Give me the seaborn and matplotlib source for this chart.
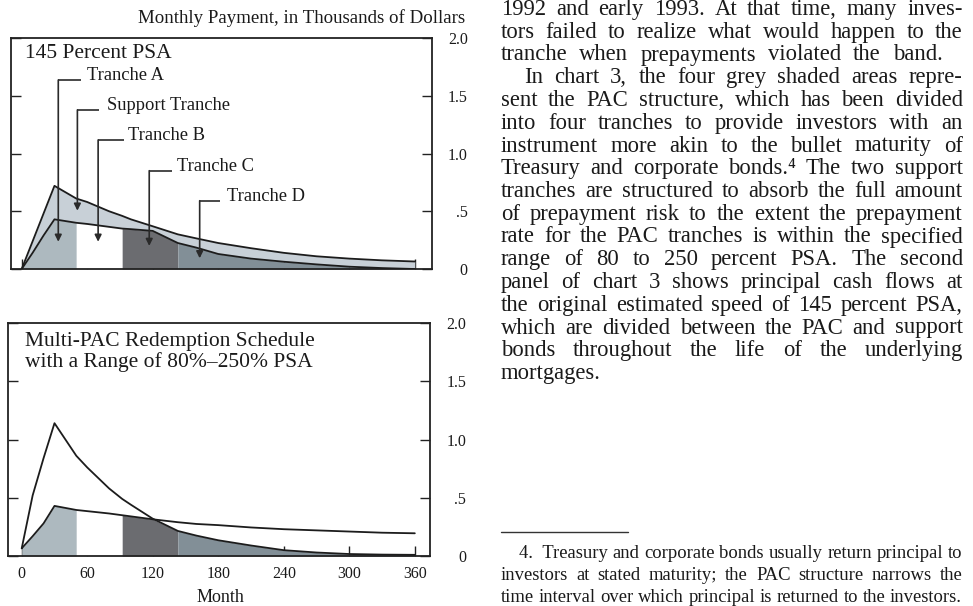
import numpy as np
import pandas as pd
import matplotlib
matplotlib.use("Agg")
import matplotlib.pyplot as plt
from matplotlib.transforms import IdentityTransform
import seaborn as sns

# ---------------- data ----------------
months = [0, 10, 20, 30, 50, 60, 80, 92, 100, 120, 143, 160, 180, 210, 240, 270, 300, 330, 360]
total_145 = [0, 0.24, 0.48, 0.72, 0.61, 0.58, 0.50, 0.46, 0.43, 0.37, 0.30, 0.265, 0.225, 0.18, 0.14, 0.11, 0.09, 0.075, 0.065]
pac_145 = [0, 0.14, 0.29, 0.43, 0.40, 0.39, 0.365, 0.35, 0.345, 0.33, 0.225, 0.185, 0.13, 0.09, 0.063, 0.04, 0.02, 0.008, 0.0]
psa_80 = [0.066, 0.17, 0.28, 0.43, 0.395, 0.385, 0.365, 0.35, 0.34, 0.315, 0.29, 0.275, 0.265, 0.245, 0.23, 0.22, 0.21, 0.20, 0.195]
psa_250 = [0.066, 0.52, 0.84, 1.14, 0.86, 0.76, 0.58, 0.49, 0.44, 0.32, 0.215, 0.175, 0.135, 0.09, 0.05, 0.03, 0.017, 0.012, 0.01]

tranche_names = ["Tranche A", "Tranche B", "Tranche C", "Tranche D"]
tranche_bounds = [0, 50, 92, 143, 360]
tranche_colors = ["#adb9bf", "#ffffff", "#6b6c70", "#828f97"]
support_color = "#c8d0d7"

x_ticks = [0, 60, 120, 180, 240, 300, 360]
y_ticks = [0, 0.5, 1.0, 1.5, 2.0]
y_tick_labels = ["0", ".5", "1.0", "1.5", "2.0"]

top_title = "145 Percent PSA"
bottom_title = "Multi-PAC Redemption Schedule\nwith a Range of 80%\u2013250% PSA"
y_axis_title = "Monthly Payment, in Thousands of Dollars"
x_axis_title = "Month"

# labels in the top panel: (arrow month, elbow height, arrow tip, elbow end month, text month)
label_names = ["Tranche A", "Support Tranche", "Tranche B", "Tranche C", "Tranche D"]
label_layout = [(33.5, 1.636, 0.236, 54.3, 59.5),
                (51.0, 1.377, 0.505, 70.8, 77.8),
                (70.0, 1.117, 0.236, 93.7, 97.6),
                (116.8, 0.851, 0.200, 137.4, 141.9),
                (163.0, 0.591, 0.093, 181.6, 187.7)]

body_lines = [
    ("1992 and early 1993. At that time, many inves-", True, 0),
    ("tors failed to realize what would happen to the", True, 0),
    ("tranche when prepayments violated the band.", False, 0),
    ("In chart 3, the four grey shaded areas repre-", True, 23),
    ("sent the PAC structure, which has been divided", True, 0),
    ("into four tranches to provide investors with an", True, 0),
    ("instrument more akin to the bullet maturity of", True, 0),
    ("Treasury and corporate bonds.\u2074 The two support", True, 0),
    ("tranches are structured to absorb the full amount", True, 0),
    ("of prepayment risk to the extent the prepayment", True, 0),
    ("rate for the PAC tranches is within the specified", True, 0),
    ("range of 80 to 250 percent PSA. The second", True, 0),
    ("panel of chart 3 shows principal cash flows at", True, 0),
    ("the original estimated speed of 145 percent PSA,", True, 0),
    ("which are divided between the PAC and support", True, 0),
    ("bonds throughout the life of the underlying", True, 0),
    ("mortgages.", False, 0),
]
foot_lines = [
    ("4.\u2002Treasury and corporate bonds usually return principal to", True, 18),
    ("investors at stated maturity; the PAC structure narrows the", True, 0),
    ("time interval over which principal is returned to the investors.", False, 0),
]

# ---------------- style ----------------
sns.set_theme(style="white")
plt.rcParams["font.family"] = ["Liberation Serif", "DejaVu Serif"]

W, H = 973, 606
fig = plt.figure(figsize=(W / 100, H / 100), dpi=100)
fig.patch.set_facecolor("white")
TXT = "#1a1a1a"


def ax_rect(l, r, t, b):
    return [l / W, 1 - b / H, (r - l) / W, (b - t) / H]


ax1 = fig.add_axes(ax_rect(11, 431.7, 38, 269))
ax2 = fig.add_axes(ax_rect(8.3, 430, 323, 556))

m = np.array(months, dtype=float)
line_col = "#1c1c1c"


def shade_tranches(ax, upper):
    upper = np.asarray(upper, dtype=float)
    for i in range(4):
        lo, hi = tranche_bounds[i], tranche_bounds[i + 1]
        ax.fill_between(m, 0, upper, where=(m >= lo) & (m <= hi),
                        color=tranche_colors[i], linewidth=0, zorder=1)


# top panel
ax1.fill_between(m, pac_145, total_145, color=support_color, linewidth=0, zorder=1)
shade_tranches(ax1, pac_145)
df_top = pd.DataFrame({"month": months * 2,
                       "value": total_145 + pac_145,
                       "series": ["145 PSA total"] * len(months) + ["PAC schedule"] * len(months)})
sns.lineplot(data=df_top, x="month", y="value", hue="series",
             palette={"145 PSA total": line_col, "PAC schedule": line_col},
             legend=False, ax=ax1, linewidth=1.3, zorder=3)

for name, (ax_m, ly, tip, lend, tx) in zip(label_names, label_layout):
    ax1.plot([ax_m, lend], [ly, ly], color="#2a2a2a", lw=1.2, zorder=4, solid_capstyle="butt")
    ax1.annotate("", xy=(ax_m, tip), xytext=(ax_m, ly),
                 arrowprops=dict(arrowstyle="-|>", color="#2a2a2a", lw=1.2,
                                 mutation_scale=10, shrinkA=0, shrinkB=0), zorder=4)
    ax1.text(tx, ly, name, fontsize=13.3, va="baseline", ha="left", color=TXT, zorder=5)

fig.text(25 / W, 1 - 53 / H, top_title, fontsize=15.5, va="center", ha="left", color=TXT)

# bottom panel
shade_tranches(ax2, np.minimum(psa_80, psa_250))
df_bot = pd.DataFrame({"month": months * 2,
                       "value": psa_80 + psa_250,
                       "series": ["80 PSA"] * len(months) + ["250 PSA"] * len(months)})
sns.lineplot(data=df_bot, x="month", y="value", hue="series",
             palette={"80 PSA": line_col, "250 PSA": line_col},
             legend=False, ax=ax2, linewidth=1.3, zorder=3)
fig.text(25 / W, 1 - 352 / H, bottom_title, fontsize=15.5, va="center", ha="left",
         color=TXT, linespacing=1.05)

for ax, xl in ((ax1, (-9.8, 375.5)), (ax2, (-12.3, 373.9))):
    ax.set_xlim(*xl)
    ax.set_ylim(0, 2.0)
    ax.set_xticks(x_ticks)
    ax.set_yticks(y_ticks)
    ax.set_yticklabels(y_tick_labels)
    ax.set_xlabel("")
    ax.set_ylabel("")
    ax.tick_params(axis="y", left=True, right=True, labelleft=False, labelright=True,
                   direction="in", length=7.5, width=1.0, color="#222222",
                   labelsize=11.5, pad=26, labelcolor=TXT)
    ax.tick_params(axis="x", bottom=True, top=False, direction="in", length=7,
                   width=1.0, color="#222222", labelsize=11.5, pad=7, labelcolor=TXT)
    for t in ax.yaxis.get_major_ticks():
        t.label2.set_horizontalalignment("right")
    for s in ax.spines.values():
        s.set_color("#222222")
        s.set_linewidth(1.3)
        s.set_visible(True)
    ax.set_facecolor("white")

ax1.tick_params(axis="x", labelbottom=False)

fig.text(465 / W, 1 - 23 / H, y_axis_title, fontsize=13.6, ha="right", va="baseline", color=TXT)
fig.text(220 / W, 1 - 597 / H, x_axis_title, fontsize=13, ha="center", va="center", color=TXT)

# ---------------- text column ----------------
renderer = fig.canvas.get_renderer()
IT = IdentityTransform()


def measure(s, size):
    t = fig.text(0, 0, s, fontsize=size, transform=IT)
    w = t.get_window_extent(renderer).width
    t.remove()
    return w


def draw_block(lines, size, baselines, x0, x1, free_gap):
    for (txt, just, indent), yb in zip(lines, baselines):
        words = txt.split(" ")
        widths = [measure(w, size) for w in words]
        start = x0 + indent
        if just and len(words) > 1:
            gap = (x1 - start - sum(widths)) / (len(words) - 1)
        else:
            gap = free_gap
        x = start
        for w, wd in zip(words, widths):
            fig.text(x, H - yb, w, fontsize=size, transform=IT, ha="left",
                     va="baseline", color=TXT)
            x += wd + gap


body_size = 16.3
foot_size = 12.6 * 462.0 / measure("time interval over which principal is returned to the investors.", 12.6)
body_base = [15 + 22.75 * i for i in range(len(body_lines))]
foot_base = [557.5, 579.5, 601.5]
draw_block(body_lines, body_size, body_base, 500.7, 962.7, 12.0)
fgap = measure("n n", foot_size) - measure("nn", foot_size)
draw_block(foot_lines, foot_size, foot_base, 500.7, 962.7, fgap)

fig.add_artist(plt.Line2D([500.7 / W, 627.7 / W], [1 - 531.7 / H, 1 - 531.7 / H],
                          transform=fig.transFigure, color="#333333", lw=1.0))

fig.savefig("out.png", dpi=100, facecolor="white")
